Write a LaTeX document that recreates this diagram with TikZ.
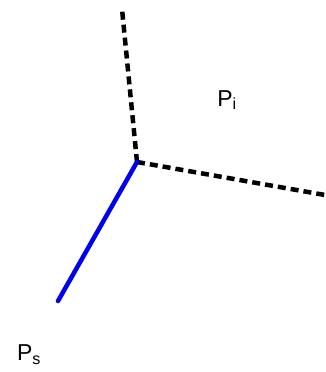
\documentclass[tikz,border=0pt]{standalone}
\usepackage{fontspec}
\setmainfont{Liberation Sans}
\definecolor{lineblue}{RGB}{0,0,240}
\begin{document}
\begin{tikzpicture}[x=1pt,y=-1pt,
  dashedge/.style={line width=4.5pt, black, dash pattern=on 8pt off 5pt, line cap=butt},
  blueedge/.style={line width=4.5pt, lineblue, line cap=round},
  lbl/.style={inner sep=0pt, font=\fontsize{23}{26}\selectfont}]
\useasboundingbox (0,0) rectangle (325,372);
\coordinate (c) at (137,162);
\coordinate (t) at (122,9);
\coordinate (r) at (325,195);
\coordinate (b) at (58,301);
\draw[dashedge] (c) -- (t);
\draw[dashedge] (c) -- (r);
\draw[blueedge] (c) -- (b);
\node[lbl] (pi) at (227,100) {P\textsubscript{i}};
\node[lbl] (ps) at (29,355) {P\textsubscript{s}};
\end{tikzpicture}
\end{document}
